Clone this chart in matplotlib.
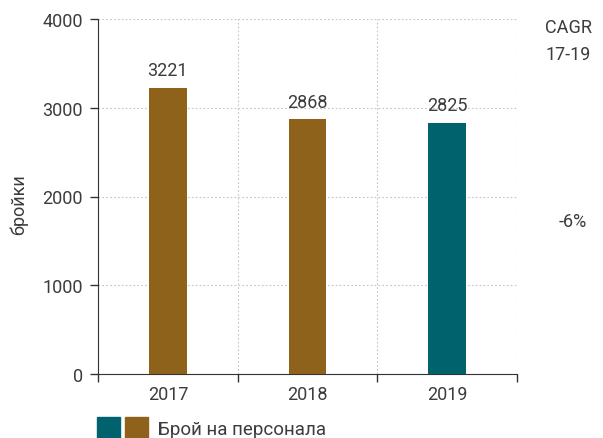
import matplotlib
matplotlib.use("Agg")
import matplotlib.pyplot as plt
from matplotlib.patches import Rectangle

years = ["2017", "2018", "2019"]
values = [3221, 2868, 2825]
bar_colors = ["#8F621B", "#8F621B", "#00626D"]
yticks = [0, 1000, 2000, 3000, 4000]
cagr_label = "CAGR\n17-19"
cagr_value = "-6%"
legend_label = "Брой на персонала"
ylabel = "бройки"

plt.rcParams['font.family'] = ['Roboto', 'DejaVu Sans']
txt = "#3c3c3c"
fs = 13

fig = plt.figure(figsize=(6.03, 4.39), dpi=100)
ax = fig.add_axes([98/603, 1-375/439, (517-98)/603, (375-20)/439])

pos = [i + 0.5 for i in range(len(years))]
ax.bar(pos, values, width=0.27, color=bar_colors, zorder=3)
for p, v in zip(pos, values):
    ax.text(p, v + 100, str(v), ha="center", va="bottom", fontsize=fs, color=txt)

ax.set_xlim(0, 3)
ax.set_ylim(0, 4000)
ax.set_yticks(yticks)
ax.set_xticks([0, 1, 2, 3])
ax.set_xticklabels([])
ax.set_xticks(pos, minor=True)
ax.set_xticklabels(years, minor=True)
ax.tick_params(axis="x", which="minor", length=0, labelsize=fs, labelcolor=txt, pad=8)
ax.tick_params(axis="x", which="major", length=6, width=1, color="#333333", direction="out")
ax.tick_params(axis="y", length=6, width=1, color="#333333", labelsize=fs, labelcolor=txt, pad=5)

for s in ["top", "right"]:
    ax.spines[s].set_visible(False)
ax.spines["left"].set_color("#333333")
ax.spines["bottom"].set_color("#333333")
ax.grid(True, which="major", axis="both", linestyle=(0, (1.5, 2)), color="#c4c4c4", linewidth=0.8, zorder=0)
ax.set_axisbelow(True)

fig.text(19/603, 1-205/439, ylabel, rotation=90, ha="center", va="center", fontsize=fs, color=txt)

fig.text(568/603, 1-28/439, "CAGR", ha="center", va="center", fontsize=fs, color=txt)
fig.text(568/603, 1-55/439, "17-19", ha="center", va="center", fontsize=fs, color=txt)
fig.text(573/603, 1-222/439, cagr_value, ha="center", va="center", fontsize=fs, color=txt)

# legend
fig.patches.append(Rectangle((97/603, 0), 23/603, 21/439, transform=fig.transFigure, color="#00626D"))
fig.patches.append(Rectangle((125/603, 0), 23/603, 21/439, transform=fig.transFigure, color="#8F621B"))
fig.text(158/603, 1-430/439, legend_label, ha="left", va="center", fontsize=fs + 0.5, color=txt)

fig.savefig("out.png", dpi=100)
